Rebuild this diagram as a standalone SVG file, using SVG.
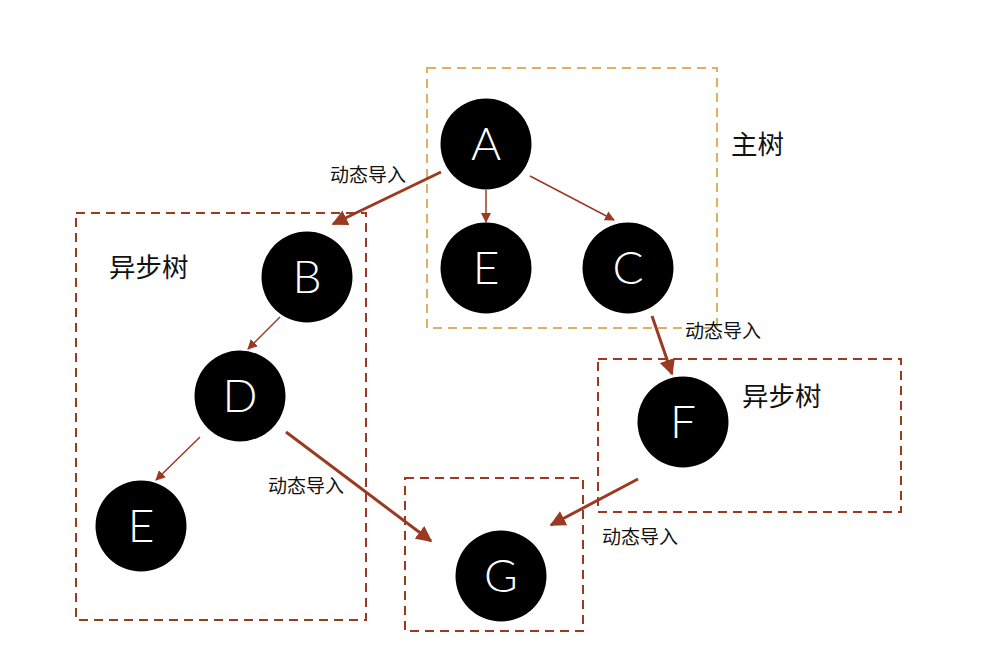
<svg xmlns="http://www.w3.org/2000/svg" width="984" height="668" viewBox="0 0 984 668">
<style>
.node circle{fill:#000}
.node text{fill:#fff;font-family:Lato,"Noto Sans",sans-serif;font-size:46px;font-weight:300;text-anchor:middle;dominant-baseline:central}
.box{fill:none;stroke:#9b3a22;stroke-width:2;stroke-dasharray:9 6}
.main{stroke:#deb060}
.lbl{font-family:"Noto Sans CJK SC",sans-serif;fill:#111}
.s{font-size:19px}
.b{font-size:26.5px}
.thin{stroke:#9b3a22;stroke-width:1.5;fill:none}
.thick{stroke:#9b3a22;stroke-width:3;fill:none}
</style>
<defs>
<marker id="ah" viewBox="0 0 10 10" refX="9" refY="5" markerWidth="10" markerHeight="10" markerUnits="userSpaceOnUse" orient="auto"><path d="M0,0 L10,5 L0,10 z" fill="#9b3a22"/></marker>
<marker id="ahb" viewBox="0 0 10 10" refX="9" refY="5" markerWidth="16" markerHeight="16" markerUnits="userSpaceOnUse" orient="auto"><path d="M0,0 L10,5 L0,10 z" fill="#9b3a22"/></marker>
</defs>
<rect width="984" height="668" fill="#fff"/>
<g id="boxes">
<rect class="box main" x="427" y="68" width="290" height="260"/>
<rect class="box" x="76" y="213" width="290" height="407"/>
<rect class="box" x="598" y="359" width="303" height="153"/>
<rect class="box" x="405" y="478" width="178" height="153"/>
</g>
<g id="labels">
<text class="lbl b" x="731" y="154">主树</text>
<text class="lbl b" x="109" y="277">异步树</text>
<text class="lbl b" x="742" y="406">异步树</text>
<text class="lbl s" x="330" y="182">动态导入</text>
<text class="lbl s" x="685" y="338">动态导入</text>
<text class="lbl s" x="268" y="493">动态导入</text>
<text class="lbl s" x="602" y="544">动态导入</text>
</g>
<g id="connectors">
<line class="thick" x1="441" y1="172" x2="333" y2="224" marker-end="url(#ahb)"/>
<line class="thin" x1="486" y1="190" x2="486" y2="222" marker-end="url(#ah)"/>
<line class="thin" x1="530" y1="176" x2="614" y2="220" marker-end="url(#ah)"/>
<line class="thick" x1="652" y1="316" x2="672" y2="374" marker-end="url(#ahb)"/>
<line class="thin" x1="280" y1="317" x2="248" y2="349" marker-end="url(#ah)"/>
<line class="thin" x1="200" y1="437" x2="156" y2="480" marker-end="url(#ah)"/>
<line class="thick" x1="286" y1="432" x2="431" y2="541" marker-end="url(#ahb)"/>
<line class="thick" x1="638" y1="479" x2="551" y2="525" marker-end="url(#ahb)"/>
</g>
<g id="nA" class="node"><circle cx="486" cy="144" r="45.5"/><text x="486" y="142">A</text></g>
<g id="nE1" class="node"><circle cx="486" cy="268" r="45.5"/><text x="486" y="266">E</text></g>
<g id="nC" class="node"><circle cx="628" cy="268" r="45.5"/><text x="628" y="266">C</text></g>
<g id="nB" class="node"><circle cx="307" cy="277" r="45.5"/><text x="307" y="275">B</text></g>
<g id="nD" class="node"><circle cx="240" cy="396" r="45.5"/><text x="240" y="394">D</text></g>
<g id="nE2" class="node"><circle cx="141" cy="526" r="45.5"/><text x="141" y="524">E</text></g>
<g id="nF" class="node"><circle cx="683" cy="422" r="45.5"/><text x="683" y="420">F</text></g>
<g id="nG" class="node"><circle cx="501" cy="576" r="45.5"/><text x="501" y="574">G</text></g>
</svg>
